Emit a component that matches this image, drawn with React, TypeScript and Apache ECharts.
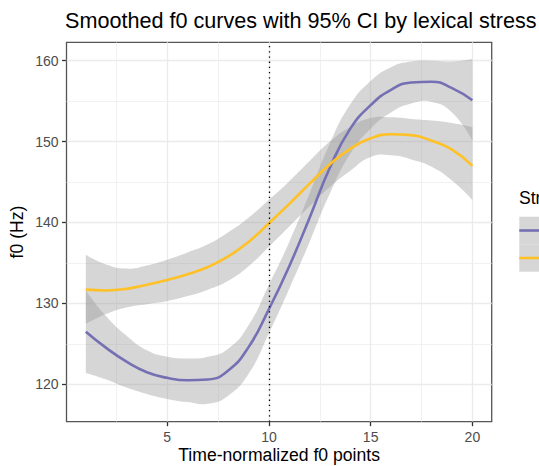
import React, { useEffect, useRef } from "react";
import * as echarts from "echarts";

const timePoints = [1, 2, 3, 4, 5, 6, 7, 8, 9, 10, 11, 12, 13, 14, 15, 16, 17, 18, 19, 20];

const stressedFit = [126.5, 124.5, 122.8, 121.5, 120.8, 120.5, 120.6, 121.7, 124.6, 129.3, 134.6, 140.6, 146.8, 151.6, 154.5, 156.4, 157.3, 157.4, 156.6, 155.1];
const stressedLower = [121.4, 120.6, 119.6, 118.8, 118.2, 117.8, 117.6, 118.6, 121.3, 126.3, 131.8, 137.6, 143.6, 148.5, 151.6, 153.6, 154.7, 154.9, 153.6, 150.1];
const stressedUpper = [131.6, 128.4, 126.0, 124.2, 123.4, 123.2, 123.4, 124.4, 127.3, 132.3, 137.6, 143.6, 149.8, 154.6, 157.5, 159.2, 159.9, 160.0, 159.9, 160.2];

const unstressedFit = [131.7, 131.6, 131.8, 132.3, 132.9, 133.6, 134.5, 135.8, 137.6, 139.9, 142.3, 144.8, 147.2, 149.1, 150.4, 150.9, 150.8, 150.1, 149.0, 147.0];
const unstressedLower = [127.5, 128.7, 129.5, 129.9, 130.3, 130.9, 131.7, 132.8, 134.6, 137.0, 139.5, 142.0, 144.4, 146.4, 148.1, 148.3, 147.8, 146.9, 145.2, 142.8];
const unstressedUpper = [136.0, 134.8, 134.3, 134.7, 135.4, 136.3, 137.3, 138.8, 140.6, 142.8, 145.1, 147.6, 150.0, 151.8, 152.9, 153.0, 152.8, 152.6, 152.3, 151.8];

const xTicks = [5, 10, 15, 20];
const xMinorTicks = [2.5, 7.5, 12.5, 17.5];
const yTicks = [120, 130, 140, 150, 160];
const yMinorTicks = [125, 135, 145, 155];
const markerTime = [10];

const PURPLE = "#7570B3";
const YELLOW = "#FFC125";
const BAND = "rgba(153,153,153,0.4)";
const FONT = "'Liberation Sans', Arial, Helvetica, sans-serif";
const SMOOTH = 0.5;

const X_MIN = 0.05;
const X_MAX = 20.95;
const Y_MIN = 115.38;
const Y_MAX = 162.27;

// Same control-point rule as ECharts' smoothed line, so band edges match the lines.
function smoothSegments(pts: number[][]): string {
  const n = pts.length;
  const outCp: number[][] = [];
  const inCp: number[][] = [];
  for (let i = 0; i < n; i++) {
    const p = pts[i];
    if (i === 0 || i === n - 1) {
      outCp[i] = p;
      inCp[i] = p;
      continue;
    }
    const prev = pts[i - 1];
    const next = pts[i + 1];
    const dx = next[0] - prev[0];
    const dy = next[1] - prev[1];
    const lenPrev = Math.hypot(p[0] - prev[0], p[1] - prev[1]);
    const lenNext = Math.hypot(next[0] - p[0], next[1] - p[1]);
    const ratio = lenNext / (lenNext + lenPrev || 1);
    inCp[i] = [p[0] - dx * SMOOTH * (1 - ratio), p[1] - dy * SMOOTH * (1 - ratio)];
    outCp[i] = [p[0] + dx * SMOOTH * ratio, p[1] + dy * SMOOTH * ratio];
  }
  let d = "";
  for (let i = 0; i < n - 1; i++) {
    const c1 = outCp[i];
    const c2 = inCp[i + 1];
    const e = pts[i + 1];
    d += `C${c1[0]},${c1[1]} ${c2[0]},${c2[1]} ${e[0]},${e[1]}`;
  }
  return d;
}

function bandSeries(name: string, lower: number[], upper: number[]) {
  return {
    type: "custom",
    name,
    silent: true,
    coordinateSystem: "cartesian2d",
    data: [[timePoints[0], lower[0]]],
    renderItem: (_params: any, api: any) => {
      const up = timePoints.map((t, i) => api.coord([t, upper[i]]));
      const lo = timePoints.map((t, i) => api.coord([t, lower[i]])).reverse();
      const d =
        `M${up[0][0]},${up[0][1]}` +
        smoothSegments(up) +
        `L${lo[0][0]},${lo[0][1]}` +
        smoothSegments(lo) +
        "Z";
      return { type: "path", shape: { pathData: d }, style: { fill: BAND, stroke: "none" } };
    },
  };
}

export default function App() {
  const ref = useRef<HTMLDivElement>(null);

  useEffect(() => {
    if (!ref.current) return;
    const chart = echarts.init(ref.current, undefined, { renderer: "svg" });
    const hiddenAxis = {
      axisLine: { show: false },
      axisTick: { show: false },
      axisLabel: { show: false },
    };
    chart.setOption({
      animation: false,
      backgroundColor: "#ffffff",
      textStyle: { fontFamily: FONT },
      title: {
        text: "Smoothed f0 curves with 95% CI by lexical stress",
        left: 65,
        top: 9,
        padding: 0,
        textStyle: { fontSize: 21.6, fontWeight: "normal", color: "#000000", fontFamily: FONT },
      },
      grid: {
        left: 66.5,
        top: 42.3,
        right: 47.3,
        bottom: 44.3,
        show: true,
        backgroundColor: "#ffffff",
        borderColor: "#555555",
        borderWidth: 1.3,
        containLabel: false,
        outerBoundsMode: "none",
      },
      xAxis: [
        {
          type: "value",
          min: X_MIN,
          max: X_MAX,
          position: "bottom",
          name: "Time-normalized f0 points",
          nameLocation: "middle",
          nameGap: 24,
          nameMoveOverlap: false,
          nameTextStyle: { fontSize: 17.6, color: "#000000", fontFamily: FONT },
          axisLine: { show: false },
          axisTick: { show: true, length: 4.5, customValues: xTicks, lineStyle: { color: "#333333", width: 1.3 } },
          axisLabel: { customValues: xTicks, fontSize: 14, color: "#4d4d4d", margin: 8, fontFamily: FONT },
          splitLine: { show: true, lineStyle: { color: "#ebebeb", width: 1.3 } },
        },
        {
          type: "value",
          min: X_MIN,
          max: X_MAX,
          position: "bottom",
          ...hiddenAxis,
          axisTick: { show: false, customValues: xMinorTicks },
          axisLabel: { show: false, customValues: xMinorTicks },
          splitLine: { show: true, lineStyle: { color: "#ebebeb", width: 0.7 } },
        },
      ],
      yAxis: [
        {
          type: "value",
          min: Y_MIN,
          max: Y_MAX,
          position: "left",
          name: "f0 (Hz)",
          nameLocation: "middle",
          nameGap: 41,
          nameMoveOverlap: false,
          nameTextStyle: { fontSize: 17.6, color: "#000000", fontFamily: FONT },
          axisLine: { show: false },
          axisTick: { show: true, length: 4.5, customValues: yTicks, lineStyle: { color: "#333333", width: 1.3 } },
          axisLabel: { customValues: yTicks, fontSize: 14, color: "#4d4d4d", margin: 8, fontFamily: FONT },
          splitLine: { show: true, lineStyle: { color: "#ebebeb", width: 1.3 } },
        },
        {
          type: "value",
          min: Y_MIN,
          max: Y_MAX,
          position: "left",
          ...hiddenAxis,
          axisTick: { show: false, customValues: yMinorTicks },
          axisLabel: { show: false, customValues: yMinorTicks },
          splitLine: { show: true, lineStyle: { color: "#ebebeb", width: 0.7 } },
        },
      ],
      series: [
        bandSeries("stressed CI", stressedLower, stressedUpper),
        {
          type: "line",
          name: "stressed",
          data: timePoints.map((t, i) => [t, stressedFit[i]]),
          smooth: SMOOTH,
          symbol: "none",
          lineStyle: { color: PURPLE, width: 2.6 },
          itemStyle: { color: PURPLE },
        },
        bandSeries("unstressed CI", unstressedLower, unstressedUpper),
        {
          type: "line",
          name: "unstressed",
          data: timePoints.map((t, i) => [t, unstressedFit[i]]),
          smooth: SMOOTH,
          symbol: "none",
          lineStyle: { color: YELLOW, width: 2.6 },
          itemStyle: { color: YELLOW },
          markLine: {
            silent: true,
            symbol: ["none", "none"],
            label: { show: false },
            lineStyle: { color: "#000000", type: [1.3, 3.9], width: 1.3 },
            data: markerTime.map((v) => ({ xAxis: v })),
          },
        },
      ],
      graphic: [
        {
          type: "text",
          left: 519,
          top: 189,
          style: { text: "Stress", fontSize: 17.6, fill: "#000000", fontFamily: FONT },
        },
        { type: "rect", shape: { x: 519.3, y: 216.7, width: 28, height: 27.5 }, style: { fill: "#d6d6d6" } },
        { type: "rect", shape: { x: 519.3, y: 244.2, width: 28, height: 27.5 }, style: { fill: "#d6d6d6" } },
        { type: "line", shape: { x1: 519.3, y1: 230.5, x2: 547.3, y2: 230.5 }, style: { stroke: PURPLE, lineWidth: 2.6 } },
        { type: "line", shape: { x1: 519.3, y1: 258, x2: 547.3, y2: 258 }, style: { stroke: YELLOW, lineWidth: 2.6 } },
      ],
    });
    return () => chart.dispose();
  }, []);

  return (
    <div
      ref={ref}
      style={{ position: "fixed", left: 0, top: 0, width: 539, height: 466, background: "#ffffff" }}
    />
  );
}
